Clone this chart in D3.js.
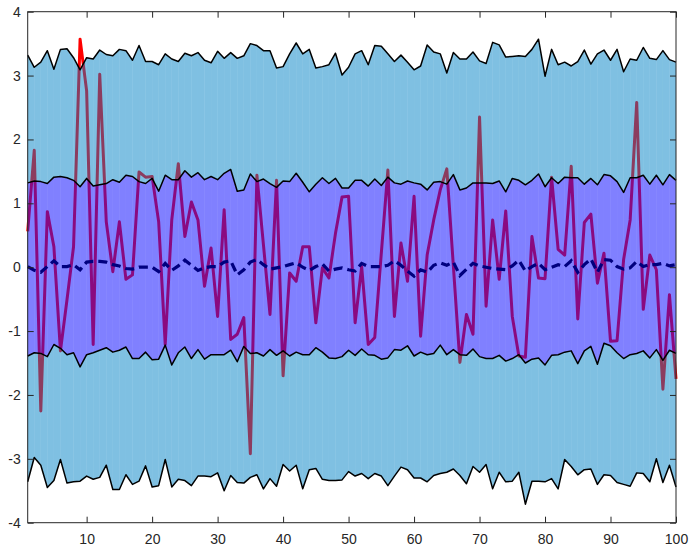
<!DOCTYPE html>
<html lang="en">
  <head>
    <meta charset="UTF-8" />
    <title>Bands</title>
    <script src="https://d3js.org/d3.v7.min.js"></script>
    <style>
      body { margin: 0; background: #fff; }
    </style>
  </head>
  <body>
    <div id="my_dataviz"></div>

    <script>
      // values, one per sample (x = 1..100)
      const upperOuter = [
        3.32, 3.13, 3.21, 3.39, 3.10, 3.41, 3.42, 3.28, 3.09, 3.28,
        3.26, 3.40, 3.33, 3.31, 3.41, 3.39, 3.24, 3.47, 3.22, 3.22,
        3.17, 3.34, 3.26, 3.22, 3.35, 3.31, 3.36, 3.24, 3.20, 3.38,
        3.27, 3.36, 3.27, 3.31, 3.50, 3.47, 3.39, 3.39, 3.12, 3.14,
        3.34, 3.51, 3.34, 3.41, 3.12, 3.14, 3.17, 3.35, 3.01, 3.13,
        3.34, 3.39, 3.17, 3.47, 3.46, 3.34, 3.22, 3.32, 3.21, 3.09,
        3.15, 3.48, 3.37, 3.34, 3.04, 3.36, 3.26, 3.26, 3.37, 3.23,
        3.19, 3.52, 3.48, 3.29, 3.30, 3.31, 3.30, 3.41, 3.57, 2.99,
        3.41, 3.17, 3.21, 3.15, 3.22, 3.40, 3.18, 3.34, 3.40, 3.24,
        3.41, 3.06, 3.26, 3.24, 3.44, 3.27, 3.25, 3.39, 3.25, 3.21
      ];
      const upperInner = [
        1.32, 1.35, 1.34, 1.31, 1.41, 1.42, 1.40, 1.36, 1.26, 1.39,
        1.27, 1.29, 1.31, 1.37, 1.33, 1.44, 1.42, 1.34, 1.31, 1.39,
        1.19, 1.44, 1.37, 1.37, 1.51, 1.41, 1.48, 1.37, 1.42, 1.37,
        1.47, 1.53, 1.19, 1.21, 1.46, 1.34, 1.38, 1.31, 1.25, 1.35,
        1.34, 1.47, 1.33, 1.18, 1.30, 1.40, 1.31, 1.39, 1.24, 1.24,
        1.36, 1.36, 1.27, 1.38, 1.28, 1.41, 1.32, 1.30, 1.35, 1.32,
        1.30, 1.21, 1.33, 1.34, 1.30, 1.45, 1.21, 1.24, 1.32, 1.32,
        1.32, 1.31, 1.35, 1.18, 1.39, 1.36, 1.29, 1.36, 1.46, 1.26,
        1.40, 1.31, 1.41, 1.40, 1.40, 1.30, 1.39, 1.29, 1.45, 1.43,
        1.34, 1.17, 1.40, 1.40, 1.44, 1.30, 1.44, 1.29, 1.45, 1.36
      ];
      const lowerInner = [
        -1.39, -1.34, -1.35, -1.40, -1.21, -1.27, -1.37, -1.34, -1.56, -1.37,
        -1.34, -1.30, -1.26, -1.33, -1.30, -1.25, -1.43, -1.43, -1.33, -1.45,
        -1.44, -1.22, -1.53, -1.34, -1.25, -1.43, -1.29, -1.44, -1.37, -1.37,
        -1.37, -1.30, -1.48, -1.24, -1.35, -1.34, -1.39, -1.29, -1.38, -1.31,
        -1.39, -1.33, -1.37, -1.37, -1.26, -1.33, -1.42, -1.43, -1.40, -1.30,
        -1.38, -1.28, -1.37, -1.38, -1.44, -1.42, -1.29, -1.30, -1.23, -1.39,
        -1.33, -1.37, -1.35, -1.22, -1.37, -1.29, -1.37, -1.38, -1.28, -1.40,
        -1.43, -1.43, -1.38, -1.47, -1.43, -1.37, -1.50, -1.44, -1.42, -1.53,
        -1.38, -1.37, -1.33, -1.31, -1.51, -1.31, -1.24, -1.52, -1.19, -1.23,
        -1.34, -1.43, -1.37, -1.35, -1.31, -1.42, -1.29, -1.46, -1.30, -1.35
      ];
      const lowerOuter = [
        -3.36, -2.98, -3.10, -3.45, -3.34, -3.01, -3.38, -3.36, -3.35, -3.27,
        -3.32, -3.29, -3.10, -3.48, -3.48, -3.25, -3.40, -3.35, -3.11, -3.44,
        -3.42, -3.01, -3.44, -3.32, -3.34, -3.42, -3.27, -3.27, -3.28, -3.22,
        -3.50, -3.26, -3.37, -3.38, -3.29, -3.25, -3.47, -3.31, -3.43, -3.09,
        -3.19, -3.10, -3.47, -3.17, -3.15, -3.32, -3.34, -3.34, -3.33, -3.20,
        -3.27, -3.23, -3.31, -3.23, -3.27, -3.42, -3.27, -3.13, -3.17, -3.30,
        -3.30, -3.36, -3.26, -3.23, -3.21, -3.16, -3.26, -3.39, -3.12, -3.21,
        -3.09, -3.47, -3.21, -3.36, -3.35, -3.21, -3.71, -3.35, -3.35, -3.36,
        -3.31, -3.47, -3.01, -3.12, -3.25, -3.17, -3.16, -3.40, -3.25, -3.26,
        -3.37, -3.40, -3.43, -3.22, -3.23, -3.36, -3.00, -3.37, -3.10, -3.44
      ];
      const meanValues = [
        0.01, -0.05, -0.08, 0.01, 0.10, 0.01, 0.01, 0.04, -0.04, 0.08,
        0.09, 0.09, 0.08, 0.04, 0.02, -0.02, -0.03, 0.00, 0.00, 0.00,
        -0.07, 0.06, -0.05, 0.02, 0.11, 0.03, -0.05, -0.01, 0.01, 0.01,
        0.08, 0.10, -0.12, -0.04, 0.08, 0.12, 0.04, -0.03, -0.01, 0.01,
        0.04, 0.07, 0.00, -0.05, 0.01, 0.05, -0.06, -0.03, -0.01, -0.04,
        -0.06, 0.06, 0.01, 0.01, 0.01, 0.03, 0.10, 0.03, -0.06, -0.14,
        -0.04, -0.08, 0.03, 0.07, 0.03, 0.08, -0.13, -0.03, 0.06, 0.02,
        0.00, -0.02, -0.03, -0.04, 0.02, 0.11, -0.06, 0.01, 0.06, -0.04,
        0.00, 0.04, 0.01, 0.10, -0.08, 0.04, 0.13, -0.08, 0.12, 0.11,
        0.01, -0.03, -0.01, 0.09, 0.01, 0.04, 0.04, 0.06, 0.02, 0.04
      ];
      const sampleValues = [
        0.56, 1.83, -2.25, 0.87, 0.32, -1.31, -0.51, 0.32, 3.57, 2.76,
        -1.21, 3.02, 0.71, -0.07, 0.71, -0.19, -0.12, 1.49, 1.41, 1.42,
        0.71, -1.21, 0.74, 1.62, 0.48, 1.02, 0.74, -0.30, 0.30, -0.77,
        0.90, -1.13, -1.05, -0.79, -2.92, 1.44, 0.35, -0.74, 1.36, -1.70,
        -0.09, -0.22, 0.32, 0.32, -0.87, -0.01, -0.17, 0.53, 1.10, 1.11,
        -0.87, 0.01, -1.21, -1.10, 0.22, 1.52, -0.77, 0.38, -0.22, 1.11,
        -1.08, 0.19, 0.74, 1.21, 1.54, 0.02, -1.49, -0.74, -1.05, 2.35,
        -0.61, 0.74, -0.19, 0.88, -0.77, -1.39, -1.41, 0.48, -0.17, -0.18,
        1.41, 0.28, 0.19, 1.58, -0.81, 0.70, 0.83, -0.25, 0.22, -1.16,
        -1.15, 0.12, 0.74, 2.58, -0.66, 0.19, -0.04, -1.91, -0.43, -1.75
      ];
      const xTicks = [10, 20, 30, 40, 50, 60, 70, 80, 90, 100];
      const xTickLabels = ['10', '20', '30', '40', '50', '60', '70', '80', '90', '100'];
      const yTicks = [-4, -3, -2, -1, 0, 1, 2, 3, 4];
      const yTickLabels = ['-4', '-3', '-2', '-1', '0', '1', '2', '3', '4'];

      (function (d3) {
        const margin = { top: 11.7, right: 14, bottom: 24.3, left: 27.7 };
        const width = 690 - margin.left - margin.right;
        const height = 547 - margin.top - margin.bottom;

        const svg = d3.select('#my_dataviz')
          .append('svg')
            .attr('width', 690)
            .attr('height', 547)
            .style('display', 'block')
            .style('background', '#fff');

        const defs = svg.append('defs');

        const g = svg.append('g')
          .attr('transform', `translate(${margin.left},${margin.top})`);

        const xScale = d3.scaleLinear().domain([1, 100]).range([0, width]);
        const yScale = d3.scaleLinear().domain([-4, 4]).range([height, 0]);

        const idx = d3.range(sampleValues.length);
        const xAt = i => xScale(i + 1);

        const bandArea = (lo, hi) => d3.area()
          .x(i => xAt(i))
          .y0(i => yScale(lo[i]))
          .y1(i => yScale(hi[i]));

        // a lighter underlay, then one patch per step so faint seams show
        const drawBand = (lo, hi, color, under) => {
          g.append('path')
            .attr('d', bandArea(lo, hi)(idx))
            .attr('fill', under);
          g.append('g')
            .selectAll('path')
            .data(idx.slice(0, -1))
            .join('path')
              .attr('d', i => `M${xAt(i)},${yScale(hi[i])}L${xAt(i + 1)},${yScale(hi[i + 1])}` +
                `L${xAt(i + 1)},${yScale(lo[i + 1])}L${xAt(i)},${yScale(lo[i])}Z`)
              .attr('fill', color);
        };

        drawBand(lowerOuter, upperOuter, '#7fc0e2', '#a6d3ec');
        drawBand(lowerInner, upperInner, '#8080ff', '#9c9cff');

        // three non-overlapping clip regions: outside, ring, inner band
        const outerD = bandArea(lowerOuter, upperOuter)(idx);
        const innerD = bandArea(lowerInner, upperInner)(idx);
        const bigRect = `M-50,-50H${width + 50}V${height + 50}H-50Z`;

        const addClip = (id, d) => {
          defs.append('clipPath')
            .attr('id', id)
            .append('path')
              .attr('d', d)
              .attr('clip-rule', 'evenodd');
        };
        addClip('outsideClip', bigRect + outerD);
        addClip('ringClip', outerD + innerD);
        addClip('innerClip', innerD);

        const valueLine = vals => d3.line()
          .x(i => xAt(i))
          .y(i => yScale(vals[i]))(idx);

        const sampleLine = (color, clip) => {
          g.append('path')
            .attr('d', valueLine(sampleValues))
            .attr('clip-path', `url(#${clip})`)
            .attr('fill', 'none')
            .attr('stroke', color)
            .attr('stroke-width', 3)
            .attr('stroke-linejoin', 'round');
        };

        sampleLine('#ff0000', 'outsideClip');
        sampleLine('#8c3c5f', 'ringClip');
        sampleLine('#8a0a80', 'innerClip');

        [upperOuter, upperInner, lowerInner, lowerOuter].forEach(vals => {
          g.append('path')
            .attr('d', valueLine(vals))
            .attr('fill', 'none')
            .attr('stroke', '#000')
            .attr('stroke-width', 1.5)
            .attr('stroke-linejoin', 'round');
        });

        g.append('path')
          .attr('d', valueLine(meanValues))
          .attr('fill', 'none')
          .attr('stroke', '#00007f')
          .attr('stroke-width', 3.2)
          .attr('stroke-dasharray', '9,5');

        // axes, ticks pointing inward on every side
        const xLabel = d => xTickLabels[xTicks.indexOf(d)];
        const yLabel = d => yTickLabels[yTicks.indexOf(d)];

        const styleAxis = sel => {
          sel.select('.domain').remove();
          sel.selectAll('.tick line').attr('stroke', '#262626');
          sel.selectAll('.tick text')
            .attr('fill', '#262626')
            .style('font-family', '"Liberation Sans", Arial, Helvetica, sans-serif')
            .style('font-size', '14px');
        };

        g.append('g')
          .attr('transform', `translate(0,${height})`)
          .call(d3.axisBottom(xScale).tickValues(xTicks).tickFormat(xLabel)
            .tickSizeInner(-6).tickSizeOuter(0).tickPadding(11))
          .call(styleAxis);

        g.append('g')
          .call(d3.axisTop(xScale).tickValues(xTicks).tickFormat('')
            .tickSizeInner(-6).tickSizeOuter(0))
          .call(styleAxis);

        g.append('g')
          .call(d3.axisLeft(yScale).tickValues(yTicks).tickFormat(yLabel)
            .tickSizeInner(-6).tickSizeOuter(0).tickPadding(7))
          .call(styleAxis);

        g.append('g')
          .attr('transform', `translate(${width},0)`)
          .call(d3.axisRight(yScale).tickValues(yTicks).tickFormat('')
            .tickSizeInner(-6).tickSizeOuter(0))
          .call(styleAxis);

        g.append('rect')
          .attr('width', width)
          .attr('height', height)
          .attr('fill', 'none')
          .attr('stroke', '#262626')
          .attr('stroke-width', 1);
      })(d3);
    </script>
  </body>
</html>
